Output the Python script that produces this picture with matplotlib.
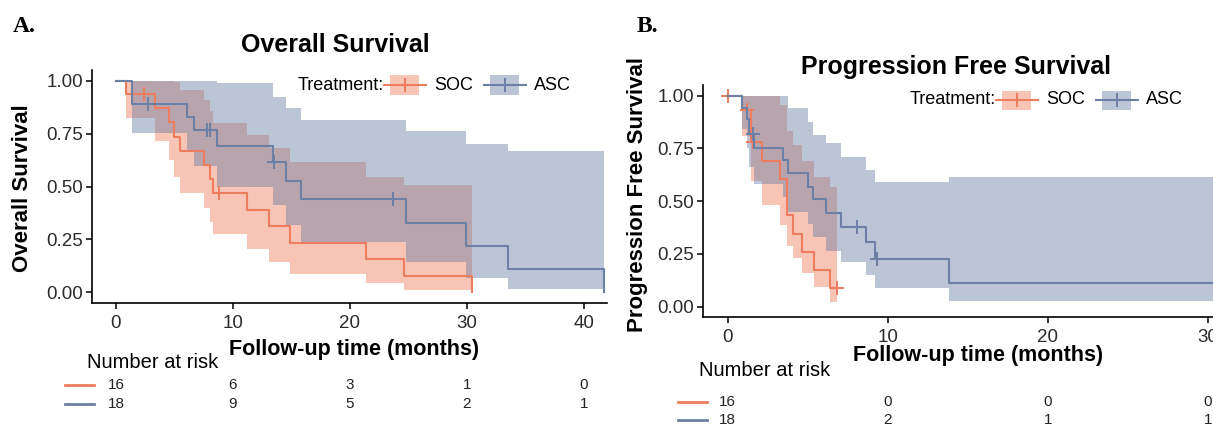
import numpy as np
import matplotlib
matplotlib.use('Agg')
import matplotlib.pyplot as plt
from matplotlib.patches import Rectangle
from matplotlib.lines import Line2D
from matplotlib.transforms import blended_transform_factory

plt.rcParams['font.family'] = ['Liberation Sans', 'DejaVu Sans']

# ---- data ----
# A. overall survival
os_soc_t = [0, 0.85, 3.36, 4.5, 5.0, 5.5, 7.5, 8.0, 8.3, 11.2, 13.1, 14.9, 21.4, 24.6, 30.4]
os_soc_s = [1, 0.9375, 0.871, 0.804, 0.737, 0.670, 0.603, 0.536, 0.469, 0.391, 0.3125, 0.234, 0.156, 0.078, 0.0]
os_soc_hi = [1, 1, 1, 1, 0.996, 0.955, 0.909, 0.858, 0.803, 0.746, 0.683, 0.616, 0.548, 0.506]
os_soc_lo = [1, 0.826, 0.718, 0.627, 0.545, 0.470, 0.400, 0.334, 0.274, 0.205, 0.143, 0.089, 0.045, 0.012]
os_soc_cens = [2.4, 8.8]

os_asc_t = [0, 1.4, 6.1, 6.7, 8.6, 13.4, 14.5, 15.8, 24.8, 29.9, 33.5, 41.7]
os_asc_s = [1, 0.889, 0.830, 0.770, 0.693, 0.616, 0.528, 0.440, 0.330, 0.220, 0.110, 0.0]
os_asc_hi = [1, 1, 1, 1, 0.99, 0.922, 0.874, 0.816, 0.763, 0.701, 0.671]
os_asc_lo = [1, 0.755, 0.671, 0.596, 0.499, 0.412, 0.319, 0.237, 0.143, 0.069, 0.018]
os_asc_cens = [2.7, 7.8, 8.0, 13.5, 23.7]

os_risk_t = [0, 10, 20, 30, 40]
os_risk_soc = [16, 6, 3, 1, 0]
os_risk_asc = [18, 9, 5, 2, 1]

# B. progression free survival
pfs_soc_t = [0, 0.87, 1.46, 2.16, 3.27, 3.69, 4.1, 4.62, 5.4, 6.4, 6.85]
pfs_soc_s = [1, 0.933, 0.779, 0.692, 0.606, 0.433, 0.346, 0.26, 0.173, 0.087, 0.087]
pfs_soc_hi = [1, 1, 1, 1, 0.954, 0.835, 0.764, 0.689, 0.614, 0.568]
pfs_soc_lo = [1, 0.81, 0.595, 0.48, 0.385, 0.29, 0.23, 0.158, 0.095, 0.02]
pfs_soc_cens = [0.0, 1.2, 1.55, 6.85]

pfs_asc_t = [0, 0.87, 1.2, 1.34, 1.64, 3.48, 3.79, 5.04, 5.35, 6.12, 7.06, 8.62, 9.23, 13.83, 31.0]
pfs_asc_s = [1, 0.944, 0.889, 0.82, 0.75, 0.695, 0.632, 0.569, 0.509, 0.443, 0.379, 0.305, 0.226, 0.113, 0.113]
pfs_asc_hi = [1, 1, 1, 1, 1, 1, 0.94, 0.877, 0.813, 0.775, 0.71, 0.647, 0.593, 0.613]
pfs_asc_lo = [1, 0.84, 0.75, 0.66, 0.58, 0.52, 0.45, 0.39, 0.33, 0.265, 0.21, 0.15, 0.09, 0.028]
pfs_asc_cens = [1.55, 8.1, 9.3]

pfs_risk_t = [0, 10, 20, 30]
pfs_risk_soc = [16, 0, 0, 0]
pfs_risk_asc = [18, 2, 1, 1]

SOC_COL = '#EE7C5E'
ASC_COL = '#6C7FA4'

W, H = 1213, 429
fig = plt.figure(figsize=(W / 100, H / 100), dpi=100)


def fx(x):
    return x / W


def fy(y):
    return 1 - y / H


def km(ax, t, s, lo, hi, cens, col):
    tb = t[:len(lo) + 1]
    ax.fill_between(tb, lo + [lo[-1]], hi + [hi[-1]], step='post',
                    color=col, alpha=0.45, lw=0)
    ax.step(t, s, where='post', color=col, lw=1.5)
    idx = np.searchsorted(t, cens, side='right') - 1
    ax.plot(cens, np.array(s)[idx], ls='none', marker='+', ms=10, mew=1.4, color=col)


def style(ax, xlim, xticks):
    ax.set_xlim(*xlim)
    ax.set_ylim(-0.05, 1.05)
    ax.set_xticks(xticks)
    ax.set_yticks([0, 0.25, 0.5, 0.75, 1.0])
    ax.set_yticklabels(['0.00', '0.25', '0.50', '0.75', '1.00'])
    for sp in ['top', 'right']:
        ax.spines[sp].set_visible(False)
    for sp in ['left', 'bottom']:
        ax.spines[sp].set_linewidth(1.2)
    ax.tick_params(length=4.5, width=1.1, labelsize=13.5, labelcolor='#2b2b2b')
    ax.tick_params(axis='x', pad=4)
    ax.tick_params(axis='y', pad=2)


def legend(x0, yc):
    # "Treatment:" followed by two keys
    fig.text(fx(x0), fy(yc), 'Treatment:', fontsize=13, ha='left', va='center')
    keys = [(x0 + 88, SOC_COL, 'SOC'), (x0 + 188, ASC_COL, 'ASC')]
    for kx, col, lab in keys:
        fig.add_artist(Rectangle((fx(kx + 4), fy(yc + 9.5)), 29 / W, 19 / H,
                                 transform=fig.transFigure, color=col, alpha=0.45, lw=0))
        fig.add_artist(Line2D([fx(kx - 2), fx(kx + 40)], [fy(yc), fy(yc)],
                              transform=fig.transFigure, color=col, lw=1.5))
        fig.add_artist(Line2D([fx(kx + 19)], [fy(yc)], transform=fig.transFigure,
                              color=col, marker='|', ms=10, mew=1.4))
        fig.text(fx(kx + 48), fy(yc), lab, fontsize=13, ha='left', va='center')


def risk(ax, xs, rows, ys, lx, head_x, head_y):
    tr = blended_transform_factory(ax.transData, fig.transFigure)
    fig.text(fx(head_x), fy(head_y), 'Number at risk', fontsize=14.5, ha='left', va='center')
    for vals, col, y in zip(rows, [SOC_COL, ASC_COL], ys):
        fig.add_artist(Line2D([fx(lx), fx(lx + 29)], [fy(y), fy(y)],
                              transform=fig.transFigure, color=col, lw=2))
        for xv, v in zip(xs, vals):
            ax.text(xv, fy(y), str(v), transform=tr, fontsize=11, ha='center',
                    va='center', color='#222222')


# ---- panel A ----
axA = fig.add_axes([fx(92), fy(302.9), fx(607.4 - 92), (302.9 - 70.4) / H])
km(axA, os_soc_t, os_soc_s, os_soc_lo, os_soc_hi, os_soc_cens, SOC_COL)
km(axA, os_asc_t, os_asc_s, os_asc_lo, os_asc_hi, os_asc_cens, ASC_COL)
style(axA, (-2.05, 42.0), [0, 10, 20, 30, 40])

fig.text(fx(24), fy(26), 'A.', fontsize=17, fontweight='bold', family='Liberation Serif',
         ha='center', va='center')
fig.text(fx(335), fy(45), 'Overall Survival', fontsize=18, fontweight='bold',
         ha='center', va='center')
fig.text(fx(23), fy(188), 'Overall Survival', fontsize=16, fontweight='bold',
         rotation=90, ha='center', va='center')
fig.text(fx(354), fy(350), 'Follow-up time (months)', fontsize=15.5, fontweight='bold',
         ha='center', va='center')
legend(298, 85)
risk(axA, os_risk_t, [os_risk_soc, os_risk_asc], [385, 404], 65, 87, 362)

# ---- panel B ----
axB = fig.add_axes([fx(702.9), fy(317.25), fx(1248.5 - 702.9), (317.25 - 85.15) / H])
km(axB, pfs_soc_t, pfs_soc_s, pfs_soc_lo, pfs_soc_hi, pfs_soc_cens, SOC_COL)
km(axB, pfs_asc_t, pfs_asc_s, pfs_asc_lo, pfs_asc_hi, pfs_asc_cens, ASC_COL)
style(axB, (-1.55, 32.55), [0, 10, 20, 30])

fig.text(fx(647), fy(26), 'B.', fontsize=17, fontweight='bold', family='Liberation Serif',
         ha='center', va='center')
fig.text(fx(956), fy(67), 'Progression Free Survival', fontsize=18, fontweight='bold',
         ha='center', va='center')
fig.text(fx(637), fy(194), 'Progression Free Survival', fontsize=16, fontweight='bold',
         rotation=90, ha='center', va='center')
fig.text(fx(978), fy(356), 'Follow-up time (months)', fontsize=15.5, fontweight='bold',
         ha='center', va='center')
legend(910, 100)
risk(axB, pfs_risk_t, [pfs_risk_soc, pfs_risk_asc], [402, 420], 678, 699, 371)

fig.savefig('out.png', dpi=100)
